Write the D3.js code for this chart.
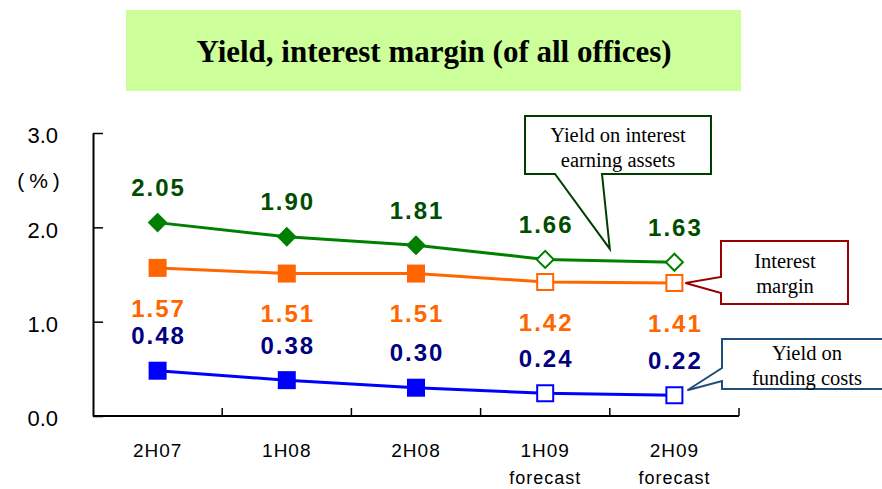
<!DOCTYPE html>
<html>
<head>
<meta charset="utf-8">
<script src="https://cdn.jsdelivr.net/npm/d3@7"></script>
<style>
  body { margin: 0; background: #fff; }
  svg { display: block; }
</style>
</head>
<body>
<div id="chart"></div>
<script>
// chart values
var categories = ["2H07", "1H08", "2H08", "1H09", "2H09"];
var subLabels = ["", "", "", "forecast", "forecast"];
var isForecast = [false, false, false, true, true];
var yieldAssets = [2.05, 1.90, 1.81, 1.66, 1.63];
var interestMargin = [1.57, 1.51, 1.51, 1.42, 1.41];
var fundingCosts = [0.48, 0.38, 0.30, 0.24, 0.22];
var yTicks = [0, 1, 2, 3];

var width = 882, height = 489;

var svg = d3.select("#chart").append("svg")
    .attr("width", width)
    .attr("height", height);

// title box
svg.append("rect")
    .attr("x", 126).attr("y", 10)
    .attr("width", 615).attr("height", 81)
    .attr("fill", "#ccff99");
svg.append("text")
    .attr("x", 434).attr("y", 62)
    .attr("text-anchor", "middle")
    .attr("font-family", "'Liberation Serif', 'Times New Roman', serif")
    .attr("font-weight", "bold")
    .attr("font-size", 31)
    .text("Yield, interest margin (of all offices)");

var xScale = d3.scaleBand().domain(categories).range([93, 739]);
var yScale = d3.scaleLinear().domain([0, 3]).range([416, 133]);
var bw = xScale.bandwidth();
function cx(i) { return xScale(categories[i]) + bw / 2; }

// y axis
var yAxis = svg.append("g")
    .attr("transform", "translate(93,0)")
    .call(d3.axisLeft(yScale)
        .tickValues(yTicks)
        .tickFormat(d3.format(".1f"))
        .tickSizeInner(-10)
        .tickSizeOuter(0)
        .tickPadding(35));
yAxis.select(".domain").attr("stroke", "#000").attr("stroke-width", 2);
yAxis.selectAll(".tick line").attr("stroke", "#000").attr("stroke-width", 1.5);
yAxis.selectAll(".tick text")
    .attr("font-family", "'Liberation Sans', Arial, sans-serif")
    .attr("font-size", 22)
    .attr("fill", "#000")
    .attr("dy", "0.45em");

svg.append("text")
    .attr("x", 41).attr("y", 188)
    .attr("text-anchor", "middle")
    .attr("font-family", "'Liberation Sans', Arial, sans-serif")
    .attr("font-size", 21)
    .attr("letter-spacing", 5)
    .text("(%)");

// x axis
svg.append("line")
    .attr("x1", 93).attr("x2", xScale.range()[1])
    .attr("y1", yScale(0)).attr("y2", yScale(0))
    .attr("stroke", "#000").attr("stroke-width", 2);
svg.selectAll(".xtick")
    .data(categories)
    .enter().append("line")
    .attr("class", "xtick")
    .attr("x1", function(d) { return xScale(d) + bw; })
    .attr("x2", function(d) { return xScale(d) + bw; })
    .attr("y1", yScale(0))
    .attr("y2", yScale(0) - 8)
    .attr("stroke", "#000").attr("stroke-width", 1.5);

svg.selectAll(".xlab")
    .data(categories)
    .enter().append("text")
    .attr("class", "xlab")
    .attr("x", function(d, i) { return cx(i); })
    .attr("y", 457)
    .attr("text-anchor", "middle")
    .attr("font-family", "'Liberation Sans', Arial, sans-serif")
    .attr("font-size", 19)
    .attr("letter-spacing", 1)
    .text(function(d) { return d; });
svg.selectAll(".xsub")
    .data(subLabels)
    .enter().append("text")
    .attr("class", "xsub")
    .attr("x", function(d, i) { return cx(i); })
    .attr("y", 484)
    .attr("text-anchor", "middle")
    .attr("font-family", "'Liberation Sans', Arial, sans-serif")
    .attr("font-size", 18)
    .attr("letter-spacing", 1)
    .text(function(d) { return d; });

// series
var series = [
    {values: yieldAssets, line: "#008000", label: "#004d00", shape: "diamond", dy: -35},
    {values: interestMargin, line: "#ff6600", label: "#ff6600", shape: "square", dy: 40},
    {values: fundingCosts, line: "#0000ff", label: "#000080", shape: "square", dy: -35}
];

var line = d3.line()
    .x(function(d, i) { return cx(i); })
    .y(function(d) { return yScale(d); });

series.forEach(function(s) {
    svg.append("path")
        .datum(s.values)
        .attr("fill", "none")
        .attr("stroke", s.line)
        .attr("stroke-width", 3)
        .attr("d", line);

    svg.selectAll(null)
        .data(s.values)
        .enter().append("path")
        .attr("transform", function(d, i) {
            return "translate(" + cx(i) + "," + yScale(d) + ")" + (s.shape == "diamond" ? " rotate(45)" : "");
        })
        .attr("d", function(d, i) {
            var side;
            if (s.shape == "diamond") side = isForecast[i] ? 12 : 14;
            else side = isForecast[i] ? 16 : 18;
            return d3.symbol().type(d3.symbolSquare).size(side * side)();
        })
        .attr("fill", function(d, i) { return isForecast[i] ? "#fff" : s.line; })
        .attr("stroke", function(d, i) { return isForecast[i] ? s.line : "none"; })
        .attr("stroke-width", 2);

    svg.selectAll(null)
        .data(s.values)
        .enter().append("text")
        .attr("x", function(d, i) { return cx(i) + 1; })
        .attr("y", function(d) { return yScale(d) + s.dy; })
        .attr("dy", "0.36em")
        .attr("text-anchor", "middle")
        .attr("font-family", "'Liberation Sans', Arial, sans-serif")
        .attr("font-weight", "bold")
        .attr("font-size", 24)
        .attr("letter-spacing", 2)
        .attr("fill", s.label)
        .text(function(d) { return d.toFixed(2); });
});

// callouts
function callout(pts, stroke, lines, tx, ty) {
    svg.append("path")
        .attr("d", d3.line()(pts) + "Z")
        .attr("fill", "#fff")
        .attr("stroke", stroke)
        .attr("stroke-width", 2);
    svg.append("text")
        .attr("font-family", "'Liberation Serif', 'Times New Roman', serif")
        .attr("font-size", 20.5)
        .attr("text-anchor", "middle")
        .attr("fill", "#000")
        .selectAll("tspan")
        .data(lines)
        .enter().append("tspan")
        .attr("x", tx)
        .attr("y", function(d, i) { return ty + i * 25; })
        .text(function(d) { return d; });
}

var tipA = [(cx(3) + cx(4)) / 2, yScale((yieldAssets[3] + yieldAssets[4]) / 2) - 12];
callout([[525, 116], [711, 116], [711, 174], [602, 174], tipA, [555, 174], [525, 174]],
    "#003d00", ["Yield on interest", "earning assets"], 618, 142);

var tipB = [cx(4) + 11, yScale(interestMargin[4])];
callout([[721, 241], [848, 241], [848, 304], [721, 304], [721, 293], tipB, [721, 277]],
    "#990000", ["Interest", "margin"], 785, 268);

var tipC = [cx(4) + 13, yScale(fundingCosts[4]) - 5];
callout([[722, 339], [890, 339], [890, 389], [722, 389], [722, 381], tipC, [722, 368]],
    "#1f4e79", ["Yield on", "funding costs"], 807, 360);
</script>
</body>
</html>
